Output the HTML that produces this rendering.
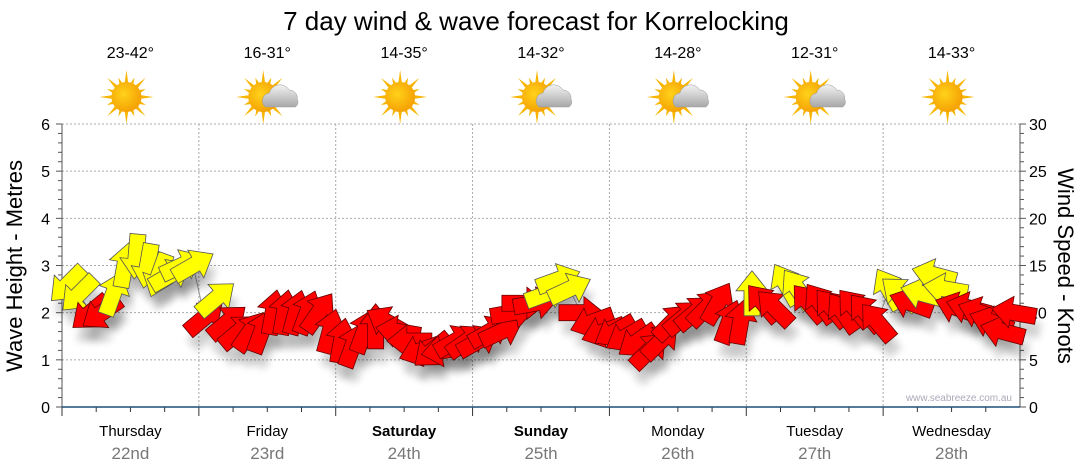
<!DOCTYPE html>
<html><head><meta charset="utf-8"><style>
body{margin:0;background:#fff;}
svg{display:block;font-family:"Liberation Sans",sans-serif;}
</style></head><body>
<svg id="chart" width="1080" height="475" viewBox="0 0 1080 475">
<defs>
<radialGradient id="sunG" cx="0.4" cy="0.4" r="0.7"><stop offset="0" stop-color="#ffd21a"/><stop offset="1" stop-color="#f39a00"/></radialGradient>
<linearGradient id="cloudG" x1="0" y1="0" x2="0" y2="1"><stop offset="0" stop-color="#f2f2f2"/><stop offset="1" stop-color="#a8a8a8"/></linearGradient>
<filter id="sh" x="-50%" y="-50%" width="200%" height="200%"><feGaussianBlur stdDeviation="4"/></filter>
</defs>
<text x="536" y="30" font-size="26" text-anchor="middle" fill="#000">7 day wind &amp; wave forecast for Korrelocking</text>
<g id="grid"></g><g id="axes"></g><g id="icons"></g><g id="shadows"></g><g id="arrows"></g>
<text x="1012" y="401" font-size="10" fill="#aab" text-anchor="end">www.seabreeze.com.au</text>
<text transform="translate(22,266) rotate(-90)" font-size="22" text-anchor="middle">Wave Height - Metres</text>
<text transform="translate(1058,266) rotate(90)" font-size="22" text-anchor="middle">Wind Speed - Knots</text>
</svg>
<script>
const days=["Thursday","Friday","Saturday","Sunday","Monday","Tuesday","Wednesday"];
const dates=["22nd","23rd","24th","25th","26th","27th","28th"];
const boldDays=[false,false,true,true,false,false,false];
const temps=["23-42°","16-31°","14-35°","14-32°","14-28°","12-31°","14-33°"];
const cloudy=[false,true,false,true,true,true,false];
const waveTicks=[0,1,2,3,4,5,6];
const windTicks=[0,5,10,15,20,25,30];
const windSpeed=[13,12,10,10,12,15,16,15,14,14,15,15,
 9.5,11.5,9,8,8,8,10,10,10,10,10,8,
 7,6.5,8,8.5,9,8,7,6,6,6,7,7,
 7,8,8,10,11,11,12,13.5,12.5,10,9,8,
 8,7.5,7,6,7,9,9.5,10,10.5,11,9,9,
 12,11,10.5,13,12.5,11,11,10.5,10,10.5,10,9,
 12.5,12,11,12,14,12.5,10.5,10.5,10,9,8,10];
const windDir=[225,225,220,215,70,80,265,260,250,30,25,30,
 40,40,40,40,55,70,80,80,75,70,55,75,
 80,70,70,90,150,170,180,200,220,190,30,35,
 30,30,25,10,0,10,20,20,25,0,200,200,
 210,210,215,45,45,45,40,40,45,60,70,80,
 90,130,135,120,125,130,125,130,125,130,130,130,
 120,140,160,165,165,170,160,165,160,160,165,170];
const NS="http://www.w3.org/2000/svg";
const X0=62,X1=1020,Y0=407,Y1=124,nDays=7,dayW=(X1-X0)/nDays;
const yWave=v=>Y0-(v/6)*(Y0-Y1);
const yWind=v=>Y0-(v/30)*(Y0-Y1);
const xT=h=>X0+h/24*dayW;
function mk(tag,attrs,parent){const e=document.createElementNS(NS,tag);for(const k in attrs)e.setAttribute(k,attrs[k]);parent.appendChild(e);return e;}
const grid=document.getElementById('grid'),axes=document.getElementById('axes'),icons=document.getElementById('icons');
waveTicks.forEach(v=>{if(v>0){const g=mk('line',{x1:X0,x2:X1,y1:yWave(v),y2:yWave(v),stroke:'#aaa','stroke-dasharray':'2,2'},grid);

}
const t=mk('text',{x:X0-12,y:yWave(v)+6,'font-size':16,'text-anchor':'end'},axes);t.textContent=v;

});
windTicks.forEach(v=>{const t=mk('text',{x:X1+9,y:yWind(v)+6,'font-size':16},axes);t.textContent=v;

});
for(let i=0;i<=30;i++){const y=Y0-i*(Y0-Y1)/30;const l=(i%5==0)?6:4;
mk('line',{x1:X0-l,x2:X0,y1:y,y2:y,stroke:'#555'},axes);mk('line',{x1:X1,x2:X1+l,y1:y,y2:y,stroke:'#555'},axes);}
mk('line',{x1:X0,x2:X0,y1:Y1,y2:Y0,stroke:'#555'},axes);mk('line',{x1:X1,x2:X1,y1:Y1,y2:Y0,stroke:'#555'},axes);
for(let d=0;d<nDays;d++){const xs=X0+d*dayW;
if(d>0){const g=mk('line',{x1:xs,x2:xs,y1:Y1,y2:Y0,stroke:'#aaa','stroke-dasharray':'2,2'},grid);

}
for(let q=0;q<4;q++){mk('line',{x1:xs+q*dayW/4,x2:xs+q*dayW/4,y1:Y0,y2:Y0+(q==0?9:5),stroke:'#333'},axes);}
const cx=xs+dayW/2;
const dl=mk('text',{x:cx,y:436,'font-size':15,'text-anchor':'middle','font-weight':boldDays[d]?'bold':'normal'},axes);dl.textContent=days[d];


const dt=mk('text',{x:cx,y:459,'font-size':17,'text-anchor':'middle',fill:'#777'},axes);dt.textContent=dates[d];


const tt=mk('text',{x:cx,y:58,'font-size':16,'text-anchor':'middle'},icons);tt.textContent=temps[d];


const g=mk('g',{transform:`translate(${cx-4},97)`},icons);


for(let r=0;r<16;r++){const a=r*Math.PI/8,L=(r%2?21:27);
mk('polygon',{points:`${Math.cos(a)*L},${Math.sin(a)*L} ${Math.cos(a+0.15)*13},${Math.sin(a+0.15)*13} ${Math.cos(a-0.15)*13},${Math.sin(a-0.15)*13}`,fill:'#f7b500'},g);}
mk('circle',{r:15,fill:'url(#sunG)'},g);
if(cloudy[d]){mk('path',{d:'M-6,16 a8,8 0 0,1 4,-14 a11,11 0 0,1 20,-3 a8,8 0 0,1 8,9 a6,6 0 0,1 -2,8 z',fill:'url(#cloudG)',stroke:'#999','stroke-width':0.5,transform:'translate(8,-6)'},g);}
}
mk('line',{x1:X0,x2:X1,y1:Y0,y2:Y0,stroke:'#1f4e79','stroke-width':1.5},axes);
const ar=document.getElementById('arrows'),shd=document.getElementById('shadows');
const step=24/12;
let pts=windSpeed.map((v,i)=>[xT((i+0.5)*step),yWind(v)]);
const ln=mk('polyline',{points:pts.map(p=>p.join(',')).join(' '),fill:'none',stroke:'#999','stroke-width':1},shd);


const shape="-22,-8 3,-8 3,-16 23,0 3,16 3,8 -22,8";
windSpeed.forEach((v,i)=>{const x=xT((i+0.5)*step),y=yWind(v);const a=-windDir[i];
const s=mk('polygon',{points:shape,fill:'#000',opacity:0.18,filter:'url(#sh)',transform:`translate(${x+4},${y+14}) rotate(${a})`},shd);


const p=mk('polygon',{points:shape,fill:v>=11.5?'#ffff00':'#ff0000',stroke:v>=11.5?'#555':'#600','stroke-width':0.8,transform:`translate(${x},${y}) rotate(${a})`},ar);

});
</script>
</body></html>
